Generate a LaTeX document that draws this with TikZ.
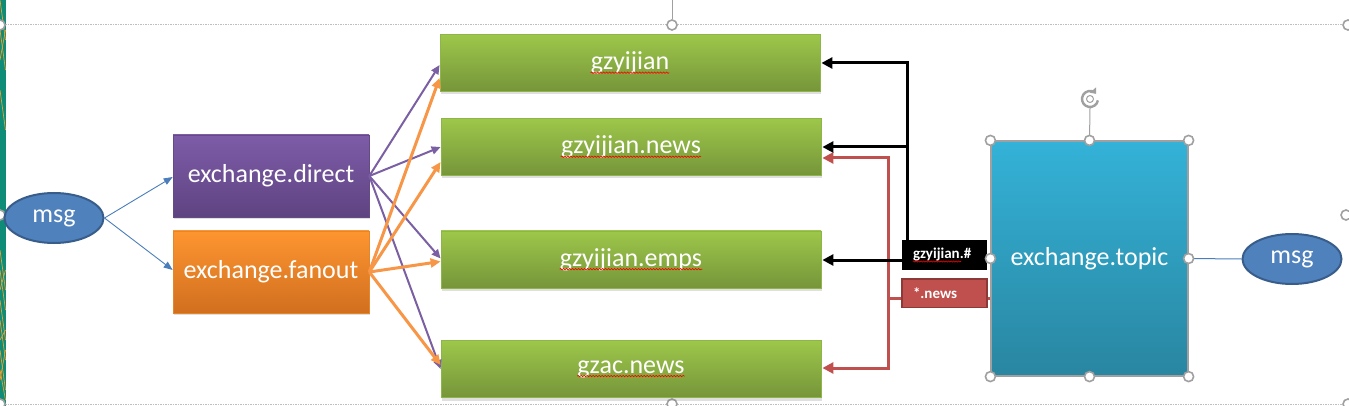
\documentclass[tikz,border=0pt]{standalone}
\usepackage{fontspec}
\setmainfont{Carlito}
\usetikzlibrary{arrows.meta,shapes.geometric,shadows,backgrounds,decorations.pathmorphing,calc}
\definecolor{ptop}{HTML}{7E5CA8}
\definecolor{pbot}{HTML}{5E4381}
\definecolor{otop}{HTML}{FD9530}
\definecolor{obot}{HTML}{D16F1F}
\definecolor{gtop}{HTML}{9DC74A}
\definecolor{gbot}{HTML}{76953A}
\definecolor{gbord}{HTML}{8DB548}
\definecolor{ttop}{HTML}{34B2D8}
\definecolor{tbot}{HTML}{2986A1}
\definecolor{ellf}{HTML}{4F81BD}
\definecolor{elld}{HTML}{385D8A}
\definecolor{barrow}{HTML}{4A7EBB}
\definecolor{parrow}{HTML}{7A5FA3}
\definecolor{oarrow}{HTML}{F79646}
\definecolor{rline}{HTML}{C0504D}
\definecolor{rdark}{HTML}{8C3A38}
\definecolor{hgray}{HTML}{A0A0A0}
\definecolor{dotgray}{HTML}{BFBFBF}
\definecolor{stripteal}{HTML}{0E8C78}
\definecolor{striporange}{HTML}{F0A030}
\tikzset{
  bigtext/.style={text=white, font=\fontsize{26}{30}\selectfont},
  exbox/.style={rectangle, inner sep=0, minimum width=196pt, minimum height=82pt, bigtext},
  dbox/.style={exbox, top color=ptop, bottom color=pbot, draw=ptop!80!black, line width=0.6pt,
     drop shadow={shadow xshift=1pt, shadow yshift=-2pt, opacity=0.25}},
  fbox/.style={exbox, top color=otop, bottom color=obot, draw=otop!90!black, line width=0.6pt,
     drop shadow={shadow xshift=1pt, shadow yshift=-2pt, opacity=0.25}},
  gbox/.style={rectangle, inner sep=0, minimum width=380pt, minimum height=57pt,
     top color=gtop, bottom color=gbot, draw=gbord, line width=0.8pt,
     drop shadow={shadow xshift=1pt, shadow yshift=-3pt, opacity=0.25}},
  gtxt/.style={inner sep=0, bigtext},
  wavy/.style={draw=red, line width=0.6pt, decorate, decoration={snake, segment length=3pt, amplitude=0.7pt}},
  tbox/.style={rectangle, inner sep=0, minimum width=197pt, minimum height=235pt,
     top color=ttop, bottom color=tbot, draw=hgray, line width=1.2pt, bigtext},
  ell/.style={ellipse, inner sep=0, minimum width=99pt, minimum height=50pt, fill=ellf, draw=elld,
     line width=2pt, bigtext},
  lbl/.style={rectangle, inner xsep=11pt, inner ysep=0, text width=63pt, align=left,
     minimum height=30pt, text=white, font=\bfseries\fontsize{15}{17}\selectfont},
  lblk/.style={lbl, fill=black},
  lred/.style={lbl, minimum height=28.5pt, fill=rline, draw=rdark, line width=1.5pt},
  handle/.style={circle, inner sep=0, minimum size=10pt, fill=white, draw=hgray, line width=1.6pt},
  barr/.style={draw=barrow, line width=0.9pt, -{Triangle[length=9pt,width=7pt]}},
  parr/.style={draw=parrow, line width=2pt, -{Triangle[length=9pt,width=8pt]}},
  oarr/.style={draw=oarrow, line width=3pt, -{Triangle[length=10pt,width=9pt]}},
  karr/.style={draw=black, line width=3pt, line join=miter, -{Triangle[length=11pt,width=11pt]}},
  rarr/.style={draw=rline, line width=3pt, line join=miter},
}
\begin{document}
\begin{tikzpicture}[x=1pt,y=-1pt]
\useasboundingbox (0,0) rectangle (1349,406);
% left strip
\fill[stripteal] (0,0) rectangle (5.5,406);
\foreach \a/\b in {0/40, 30/70, 60/30, 90/130, 250/290, 270/310, 290/270, 300/340, 320/360, 340/330, 350/390, 370/400, 380/350}
  \draw[striporange, line width=0.7pt] (0,\a) -- (5.5,\b);
% selection frame dotted lines
\draw[dotgray, line width=1pt, dash pattern=on 1.5pt off 1pt] (0,25) -- (1349,25);
\draw[dotgray, line width=1pt, dash pattern=on 1.5pt off 1pt] (0,404) -- (1349,404);
\coordinate (topend) at (672,0);
\node[handle] (hT) at (672,25) {};
\draw[hgray, line width=1pt] (topend) -- (hT.north);
\node[handle] (hB) at (672,404) {};
\node[handle] (hLT) at (0,25) {};
\node[handle] (hLM) at (0,215) {};
\node[handle] (hLB) at (0,404) {};
\node[handle] (hRT) at (1348,25) {};
\node[handle] (hRM) at (1346,215) {};
\node[handle] (hRB) at (1348,404) {};

% main nodes
\node[ell] (msgL) at (54,218) {msg};
\node[dbox] (direct) at (271,176) {exchange.direct};
\node[fbox] (fanout) at (271,272) {exchange.fanout};
\node[gbox] (g1) at (630,63) {};
\node[gbox] (g2) at (631,147) {};
\node[gbox] (g3) at (631,259.5) {};
\node[gbox] (g4) at (631,369) {};
\foreach \g/\t in {g1/gzyijian, g2/gzyijian.news, g3/gzyijian.emps, g4/gzac.news}{
  \node[gtxt] (t\g) at (\g.center) {\t};
  \draw[wavy] ([yshift=-3pt]t\g.base west) -- ([yshift=-3pt]t\g.base east);
}
\node[tbox] (topic) at (1089.5,258.5) {exchange.topic};
\node[ell] (msgR) at (1292,259) {msg};

% connectors left
\draw[barr] (msgL.east) -- ([yshift=-1pt]direct.west);
\draw[barr] (msgL.east) -- ([yshift=2pt]fanout.west);
\draw[parr] (direct.east) -- ([yshift=-2pt]g1.west);
\draw[parr] (direct.east) -- (g2.west);
\draw[parr] (direct.east) -- ([yshift=1pt]g3.west);
\draw[parr] (direct.east) -- (g4.west);
\draw[oarr] (fanout.east) -- ([yshift=-15pt]g1.west);
\draw[oarr] (fanout.east) -- ([yshift=-15pt]g2.west);
\draw[oarr] (fanout.east) -- ([yshift=-2pt]g3.west);
\draw[oarr] (fanout.east) -- ([yshift=4pt]g4.west);

% right connectors
\coordinate (bk) at (907,260);
\coordinate (bktop) at (907,240);
\coordinate (rd) at (888,298);
\coordinate (r2) at (888,158);
\coordinate (r4) at (888,368);
\draw[rarr] (topic.west |- rd) -- (rd);
\draw[rarr, {Triangle[length=11pt,width=11pt]}-{Triangle[length=11pt,width=11pt]}] ([xshift=1pt]g2.east |- r2) -- (r2) -- (r4) -- ([xshift=1pt]g4.east |- r4);
\draw[karr] (bktop) -- (bk |- g1.east) -- ([xshift=1pt]g1.east);
\draw[karr] (bk |- g2.east) -- ([xshift=1pt]g2.east);
\draw[karr] (topic.west |- bk) -- ([xshift=1pt]g3.east |- bk);
\node[lblk] (lab1) at (944.5,254.5) {gzyijian.\#};
\node[lred] (lab2) at (944.5,293) {*.news};
\draw[red, line width=0.6pt, decorate, decoration={snake, segment length=2.5pt, amplitude=0.6pt}] ([xshift=11pt,yshift=-3pt]lab1.base west) -- ([xshift=-26pt,yshift=-3pt]lab1.base east);

\draw[barrow, line width=1pt] (topic.east) -- (msgR.west);

% selection handles of topic
\coordinate (rot) at (1090,99);
\draw[hgray, line width=1pt] (rot) ++(0,9) -- (topic.north);
\draw[hgray, line width=2.4pt, -{Triangle[length=5pt,width=8pt]}] ([shift={(10:8)}]rot) arc[start angle=10, end angle=320, radius=8];
\draw[hgray, line width=1pt] (rot) circle[radius=3.5];
\foreach \p in {north west, north, north east, west, east, south west, south, south east}
  \node[handle] at (topic.\p) {};
\end{tikzpicture}
\end{document}
